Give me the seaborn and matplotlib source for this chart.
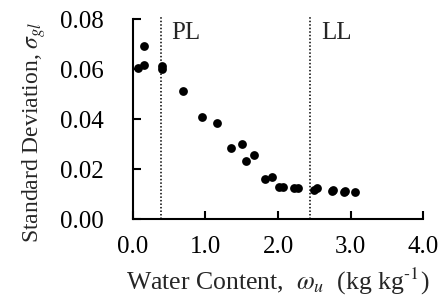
import matplotlib
matplotlib.use("Agg")
import matplotlib.pyplot as plt
import seaborn as sns
import pandas as pd

water_content = [0.07, 0.15, 0.16, 0.40, 0.40, 0.69, 0.95, 1.16, 1.35, 1.50, 1.56, 1.67,
                 1.82, 1.91, 2.01, 2.07, 2.22, 2.28, 2.50, 2.53, 2.74, 2.75, 2.91, 2.92, 3.06]
std_dev = [0.0604, 0.0616, 0.0692, 0.0612, 0.0600, 0.0514, 0.0410, 0.0387, 0.0287, 0.0301,
           0.0232, 0.0256, 0.0161, 0.0168, 0.0130, 0.0128, 0.0124, 0.0124, 0.0116, 0.0124,
           0.0112, 0.0118, 0.0108, 0.0112, 0.0110]
limits = {"PL": 0.385, "LL": 2.44}
x_ticks = [0.0, 1.0, 2.0, 3.0, 4.0]
y_ticks = [0.00, 0.02, 0.04, 0.06, 0.08]

df = pd.DataFrame({"w": water_content, "s": std_dev})

sns.set_style("ticks")
plt.rcParams["font.family"] = ["Liberation Serif", "DejaVu Serif"]
plt.rcParams["mathtext.fontset"] = "stix"

fig = plt.figure(figsize=(4.41, 2.98), dpi=100)
ax = fig.add_axes([0.301, 0.264, 0.659, 0.671])

sns.scatterplot(data=df, x="w", y="s", ax=ax, color="black", s=40,
                edgecolor="black", linewidth=0, zorder=3, clip_on=False)

for name, xv in limits.items():
    ax.axvline(xv, ymax=1.015, color="black", linestyle=(0, (1, 1.3)), linewidth=1.1,
               zorder=2, clip_on=False)
    ax.text(xv + 0.15, 0.0788, name, fontsize=18, va="top", ha="left")

ax.set_xlim(0, 4.0)
ax.set_ylim(0, 0.08)
ax.set_xticks(x_ticks)
ax.set_xticklabels([f"{v:.1f}" for v in x_ticks])
ax.set_yticks(y_ticks)
ax.set_yticklabels([f"{v:.2f}" for v in y_ticks])

for side in ["top", "right"]:
    ax.spines[side].set_visible(False)
for side in ["left", "bottom"]:
    ax.spines[side].set_linewidth(1.5)
    ax.spines[side].set_color("black")

ax.tick_params(axis="x", direction="in", length=6, width=1.5, labelsize=18, pad=12, colors="black")
ax.tick_params(axis="y", direction="in", length=6, width=1.5, labelsize=18, pad=21, colors="black")

ax.set_xlabel(r"Water Content,  $\omega_u$  (kg kg$^{\text{-1}}$)", fontsize=18.5, labelpad=6)
ax.set_ylabel(r"Standard Deviation, $\sigma_{gl}$", fontsize=17)
ax.yaxis.set_label_coords(-0.292, 0.435)

fig.savefig("out.png", dpi=100)
